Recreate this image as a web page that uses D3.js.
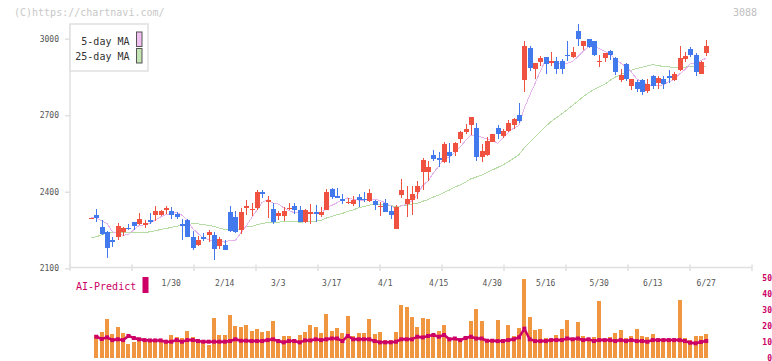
<!DOCTYPE html>
<html><head><meta charset="utf-8">
<script src="https://cdn.jsdelivr.net/npm/d3@7"></script>
<style>body{margin:0;background:#fff}svg{display:block}text{font-family:"DejaVu Sans Mono",monospace}</style>
</head><body><svg id="c" width="772" height="361"></svg>
<script>
const dates = ["1/8","1/9","1/10","1/14","1/15","1/16","1/17","1/20","1/21","1/22","1/23","1/24","1/27","1/28","1/29","1/30","1/31",
"2/3","2/4","2/5","2/6","2/7","2/10","2/12","2/13","2/14","2/17","2/18","2/19","2/20","2/21","2/25","2/26","2/27","2/28",
"3/3","3/4","3/5","3/6","3/7","3/10","3/11","3/12","3/13","3/14","3/17","3/18","3/19","3/21","3/24","3/25","3/26","3/27","3/28","3/31",
"4/1","4/2","4/3","4/4","4/7","4/8","4/9","4/10","4/11","4/14","4/15","4/16","4/17","4/18","4/21","4/22","4/23","4/24","4/25","4/28","4/30",
"5/1","5/2","5/7","5/8","5/9","5/12","5/13","5/14","5/15","5/16","5/19","5/20","5/21","5/22","5/23","5/26","5/27","5/28","5/29","5/30",
"6/2","6/3","6/4","6/5","6/6","6/9","6/10","6/11","6/12","6/13","6/16","6/17","6/18","6/19","6/20","6/23","6/24","6/25","6/26","6/27"];

const open = [2297,2310,2262,2241,2210,2222,2243,2259,2280,2275,
2275,2289,2308,2308,2327,2325,2313,2272,2291,2224,
2190,2224,2230,2232,2188,2193,2321,2300,2251,2341,
2332,2335,2399,2360,2334,2304,2306,2336,2346,2330,
2280,2316,2322,2310,2327,2412,2384,2370,2356,2354,
2381,2373,2365,2365,2344,2357,2323,2256,2389,2353,
2369,2400,2476,2476,2544,2532,2518,2557,2557,2608,
2635,2660,2651,2535,2545,2596,2651,2620,2639,2660,
2702,2838,2964,2883,2909,2928,2905,2913,2913,2938,
2928,3030,2971,2999,2991,2911,2924,2952,2924,2838,
2901,2815,2830,2838,2795,2854,2827,2842,2852,2838,
2877,2921,2960,2936,2862,2944];

const high = [2298,2334,2291,2245,2222,2278,2262,2275,2283,2317,
2288,2317,2346,2327,2346,2341,2320,2294,2293,2245,
2226,2239,2252,2241,2223,2209,2343,2326,2338,2369,
2356,2408,2408,2382,2356,2324,2341,2356,2356,2346,
2332,2353,2350,2341,2412,2416,2416,2393,2375,2382,
2393,2400,2412,2369,2359,2373,2343,2349,2451,2424,
2424,2441,2532,2522,2565,2554,2596,2592,2596,2640,
2666,2694,2670,2588,2614,2627,2660,2646,2682,2690,
2748,2991,2971,2905,2932,2928,2948,2928,2920,2991,
2968,3057,2991,2999,2991,2936,2944,2956,2928,2881,
2905,2842,2838,2842,2842,2858,2854,2854,2877,2871,
2971,2948,2968,2944,2913,2995];

const low = [2297,2280,2232,2140,2183,2209,2228,2252,2249,2269,
2258,2275,2284,2305,2312,2294,2294,2209,2222,2170,
2187,2208,2202,2134,2176,2171,2243,2239,2236,2310,
2306,2330,2376,2298,2274,2291,2287,2327,2314,2280,
2279,2275,2280,2300,2327,2373,2374,2352,2352,2346,
2339,2359,2361,2330,2304,2320,2295,2256,2376,2300,
2310,2372,2408,2441,2519,2499,2514,2513,2539,2593,
2627,2623,2522,2515,2541,2596,2606,2612,2636,2647,
2671,2792,2875,2842,2893,2862,2893,2862,2862,2913,
2924,2971,2956,2964,2932,2889,2909,2917,2858,2830,
2834,2799,2791,2780,2787,2803,2803,2803,2827,2834,
2873,2909,2928,2854,2862,2932];

const close = [2298,2296,2233,2179,2207,2267,2258,2256,2265,2295,
2277,2287,2323,2324,2338,2307,2301,2270,2223,2179,
2209,2213,2241,2175,2213,2171,2248,2241,2321,2343,
2334,2400,2396,2366,2283,2316,2326,2338,2327,2280,
2330,2320,2313,2322,2400,2378,2374,2368,2360,2369,
2366,2371,2396,2350,2346,2322,2308,2342,2408,2373,
2393,2424,2526,2497,2530,2523,2588,2539,2592,2635,
2647,2694,2535,2561,2600,2627,2627,2639,2670,2686,
2678,2971,2885,2905,2924,2902,2913,2881,2881,2936,
2948,2999,2991,2968,2936,2913,2944,2936,2870,2858,
2842,2842,2803,2791,2823,2815,2846,2823,2850,2862,
2924,2932,2936,2870,2909,2971];

const ma5Head = [2298,2297,2286,2276];
const ma25Head = [2221,2223,2232,2238,2239,2239,2239,2239,2239,2239,2240,2243,2247,2252,2256,2260,2265,2269,2273,2274,2274,2271,2268,2264];

const volume = [null,14.2,16.3,24.2,14.8,19.2,15.4,8.6,10,11.7,
11,10,10.6,10.6,10,14.2,13.1,12.5,16.7,13.1,
11,10,7.9,24.8,14.2,14.2,26.7,19.8,19,20.4,
16.7,17.9,16.3,16.7,22.9,11.5,13.6,13.6,11.5,14.2,
16.3,20.4,19.2,15.4,27.3,16.7,18.6,15.4,26,13.6,
15.4,15.4,24.2,14.8,16.3,11,11,16.3,32.9,31.7,
25.4,19.2,24.8,24.2,14.2,16.7,20.4,11.7,11,11.7,
13.6,22.9,30.4,22.9,11,11,23.5,11.7,20.4,13.6,
18.6,49.2,25.4,17.3,17.9,12.3,11,14.2,17.9,23.5,
11.7,22.3,13.6,11.7,12.9,35.4,11,12.9,15.4,17.3,
12.3,13.6,17.9,13.6,12.9,14.8,11,11,11,11,
36,12.3,11,13.6,13.6,14.8];

const predict = [null,13.1,11.7,12.7,11,11.5,11,13.6,12.3,11.5,
11,10.8,10.8,10.8,10,10,11,10,11,11,
10.4,10,10,10,10,10,10.4,11.5,10.6,10.6,
10.4,10.4,10.4,11,11.5,10.4,9.6,10.4,10.4,9.6,
10.8,10.8,11.5,11,11.5,12,12,10.4,13.6,11.5,
11.5,11.5,11.5,10.4,9.6,9.6,9.6,10,11.5,11.5,
11.5,13.1,12.7,13.6,14.2,13.1,14.2,11.5,12,11,
12.3,13.1,12,12,10.6,10.6,10.4,10.4,11,11.5,
12.7,18.1,11.5,10.4,10.4,10.4,11,11,11,12,
11.5,12,11,11.5,10.4,11,11,11,10.4,11,
10.4,11,10.4,10.4,10,11,11,11,11,11,
11,10.4,9.4,9,9.8,10.4];

const yTicks = [2100,2400,2700,3000];
const xTickLabels = ["1/30","2/14","3/3","3/17","4/1","4/15","4/30","5/16","5/30","6/13","6/27"];
const volTicks = [0,10,20,30,40,50];
const legendItems = ["5-day MA","25-day MA"];

const RED = "#ef5240", BLUE = "#4279ec", PINK = "#e6b4ec", GREEN = "#b4dca4",
      ORANGE = "#f09640", CRIMSON = "#cc0066", AXIS = "#e0e0e0";

const svg = d3.select("#c");
const x = d3.scalePoint().domain(dates).range([91, 706.25]);
const y = d3.scaleLinear().domain([2100, 3000]).range([268.3, 38.7]);
const yv = d3.scaleLinear().domain([0, 50]).range([357.7, 277.7]);
const xg = d3.scaleLinear().domain([0, 11]).range([70, 752]);

// header texts
svg.append("text").attr("x", 14).attr("y", 16).attr("fill", "#c8c8c8").attr("font-size", 10).text("(C)https://chartnavi.com/");
svg.append("text").attr("x", 733).attr("y", 15.5).attr("fill", "#c0c0c0").attr("font-size", 10).text("3088");

// axes
svg.append("line").attr("x1", 70).attr("x2", 70).attr("y1", 24).attr("y2", 268).attr("stroke", AXIS).attr("stroke-width", 1.5);
svg.append("line").attr("x1", 70).attr("x2", 752).attr("y1", 267.6).attr("y2", 267.6).attr("stroke", AXIS).attr("stroke-width", 1.5);
svg.append("g").selectAll("line").data(xg.ticks(11)).join("line")
  .attr("x1", d => xg(d)).attr("x2", d => xg(d)).attr("y1", 264.5).attr("y2", 271)
  .attr("stroke", AXIS).attr("stroke-width", 1.5);

const gy = svg.append("g").attr("transform", "translate(70,0)")
  .call(d3.axisLeft(y).tickValues(yTicks).tickSize(5).tickPadding(6).tickFormat(d3.format("d")));
gy.select(".domain").remove();
gy.selectAll(".tick line").attr("stroke", AXIS).attr("stroke-width", 1.5);
gy.selectAll("text").attr("fill", "#555").attr("font-size", 8).attr("font-family", "DejaVu Sans Mono");

// moving averages
const ma = (n, head) => close.map((c, i) => i < n - 1 ? head[i] : d3.mean(close.slice(i - n + 1, i + 1)));
const ma5 = ma(5, ma5Head), ma25 = ma(25, ma25Head);
const line = d3.line().x((d, i) => x(dates[i])).y(d => y(d));
svg.append("path").attr("d", line(ma25)).attr("fill", "none").attr("stroke", GREEN).attr("stroke-width", 1).attr("shape-rendering", "crispEdges");
svg.append("path").attr("d", line(ma5)).attr("fill", "none").attr("stroke", PINK).attr("stroke-width", 1).attr("shape-rendering", "crispEdges");

// candles
const idx = d3.range(dates.length);
const cg = svg.append("g").attr("shape-rendering", "crispEdges");
cg.selectAll("line").data(idx).join("line")
  .attr("x1", i => Math.round(x(dates[i])) + 0.5).attr("x2", i => Math.round(x(dates[i])) + 0.5)
  .attr("y1", i => y(high[i])).attr("y2", i => y(low[i]))
  .attr("stroke", i => close[i] >= open[i] ? RED : BLUE).attr("stroke-width", 1);
cg.selectAll("rect").data(idx).join("rect")
  .attr("x", i => Math.round(x(dates[i])) - 2).attr("width", 5)
  .attr("y", i => y(Math.max(open[i], close[i])))
  .attr("height", i => Math.max(1.5, Math.abs(y(open[i]) - y(close[i]))))
  .attr("fill", i => close[i] >= open[i] ? RED : BLUE);

// legend
svg.append("rect").attr("x", 70).attr("y", 24).attr("width", 78).attr("height", 47)
  .attr("fill", "#fff").attr("stroke", AXIS).attr("stroke-width", 1.5);
legendItems.forEach((t, k) => {
  svg.append("text").attr("x", 129.5).attr("y", 45 + k * 15).attr("text-anchor", "end")
    .attr("fill", "#333").attr("font-size", 10).text(t);
  svg.append("rect").attr("x", 136.5).attr("y", 32 + k * 16.5).attr("width", 5.5).attr("height", 14.5)
    .attr("fill", k === 0 ? "#f0c0f0" : "#c4e4b4").attr("stroke", "#555").attr("stroke-width", 1);
});

// date labels
svg.append("g").selectAll("text").data(xTickLabels).join("text")
  .attr("x", d => x(d)).attr("y", 285.5).attr("text-anchor", "middle")
  .attr("fill", "#555").attr("font-size", 8).text(d => d);

// AI-Predict title
svg.append("text").attr("x", 76).attr("y", 290).attr("fill", CRIMSON).attr("font-size", 10).text("AI-Predict");
svg.append("rect").attr("x", 142.5).attr("y", 277).attr("width", 6).attr("height", 16).attr("fill", CRIMSON);

// volume bars
const vIdx = idx.filter(i => volume[i] != null);
svg.append("g").attr("shape-rendering", "crispEdges").selectAll("rect").data(vIdx).join("rect")
  .attr("x", i => Math.round(x(dates[i])) - 2).attr("width", 4)
  .attr("y", i => yv(volume[i])).attr("height", i => yv(0) - yv(volume[i]))
  .attr("fill", ORANGE);

// predict line
const pIdx = idx.filter(i => predict[i] != null);
svg.append("path").attr("d", d3.line().x(i => x(dates[i])).y(i => yv(predict[i]))(pIdx))
  .attr("fill", "none").attr("stroke", CRIMSON).attr("stroke-width", 2.5);
svg.append("g").selectAll("rect").data(pIdx).join("rect")
  .attr("x", i => x(dates[i]) - 2).attr("y", i => yv(predict[i]) - 2)
  .attr("width", 4).attr("height", 4).attr("fill", CRIMSON);

// right volume axis labels
svg.append("g").selectAll("text").data(volTicks).join("text")
  .attr("x", 772).attr("y", d => yv(d)).attr("dy", "0.35em").attr("text-anchor", "end")
  .attr("fill", CRIMSON).attr("font-size", 8).attr("font-weight", "bold").text(d => d);
</script></body></html>
